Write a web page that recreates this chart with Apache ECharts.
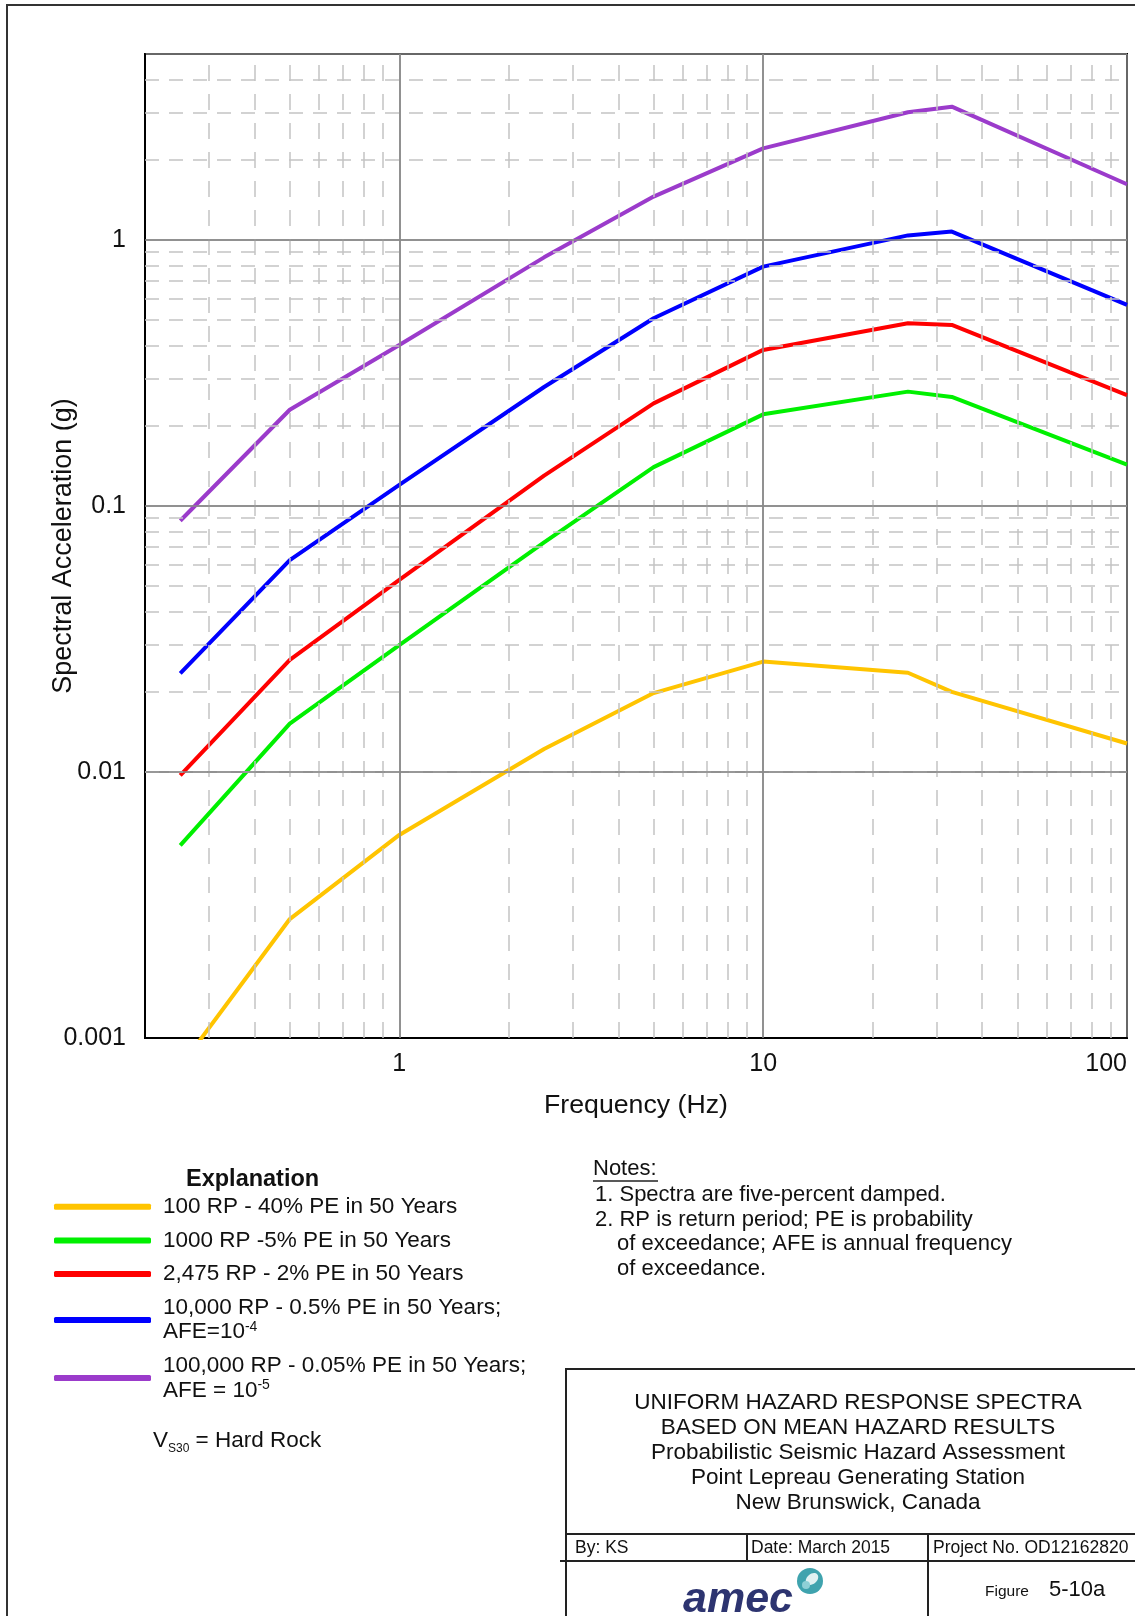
<!DOCTYPE html>
<html><head><meta charset="utf-8">
<script src="https://cdn.jsdelivr.net/npm/echarts@6/dist/echarts.min.js"></script>
<style>html,body{margin:0;padding:0;background:#fff}#main{width:1135px;height:1616px}</style>
</head><body><div id="main"></div>
<script>
const FONT = "'Liberation Sans', Arial, Helvetica, sans-serif";

// ---- data ----
const frequencies = [0.25, 0.5, 1, 2.5, 5, 10, 25, 33, 100];
const rp100    = [0.00078, 0.0028, 0.0058, 0.0122, 0.0198, 0.026, 0.0236, 0.0200, 0.0128];
const rp1000   = [0.0053, 0.0152, 0.030, 0.073, 0.140, 0.221, 0.269, 0.257, 0.143];
const rp2475   = [0.0097, 0.0264, 0.0527, 0.130, 0.243, 0.386, 0.486, 0.479, 0.261];
const rp10000  = [0.0235, 0.0626, 0.120, 0.280, 0.508, 0.794, 1.04, 1.075, 0.57];
const rp100000 = [0.088, 0.23, 0.403, 0.86, 1.455, 2.21, 3.02, 3.17, 1.62];

const seriesNames = [
  '100 RP - 40% PE in 50 Years',
  '1000 RP -5% PE in 50 Years',
  '2,475 RP - 2% PE in 50 Years',
  '10,000 RP - 0.5% PE in 50 Years; AFE=10-4',
  '100,000 RP - 0.05% PE in 50 Years; AFE = 10-5'
];
const legendLabels = [
  '100 RP - 40% PE in 50 Years',
  '1000 RP -5% PE in 50 Years',
  '2,475 RP - 2% PE in 50 Years',
  '10,000 RP - 0.5% PE in 50 Years;\nAFE=10{sup|-4}',
  '100,000 RP - 0.05% PE in 50 Years;\nAFE = 10{sup|-5}'
];
const seriesValues = [rp100, rp1000, rp2475, rp10000, rp100000];
const seriesColors = ['#FFC400', '#00F000', '#FF0000', '#0000FF', '#9B3BCB'];

const xTickValues = [1, 10, 100];
const xTickLabels = ['1', '10', '100'];
const yTickValues = [0.001, 0.01, 0.1, 1];
const yTickLabels = ['0.001', '0.01', '0.1', '1'];
const xMajorGrid = [1, 10];
const yMajorGrid = [0.01, 0.1, 1];

const noteLines = [
  '1. Spectra are five-percent damped.',
  '2. RP is return period; PE is probability',
  'of exceedance; AFE is annual frequency',
  'of exceedance.'
];
const noteIndent = [false, false, true, true];
const titleLines = [
  'UNIFORM HAZARD RESPONSE SPECTRA',
  'BASED ON MEAN HAZARD RESULTS',
  'Probabilistic Seismic Hazard Assessment',
  'Point Lepreau Generating Station',
  'New Brunswick, Canada'
];

// minor (2..9) grid positions for the log axes
function minorLines(decades, lo, hi) {
  const out = [];
  decades.forEach(d => { for (let k = 2; k <= 9; k++) { const v = +(k * d).toPrecision(6); if (v > lo && v < hi) out.push(v); } });
  return out;
}
const minorX = minorLines([0.1, 1, 10], 0.2, 100);
const minorY = minorLines([0.001, 0.01, 0.1, 1], 0.001, 5);

function tickFormatter(values, labels) {
  return function (v) {
    for (let i = 0; i < values.length; i++) {
      if (Math.abs(Math.log10(v) - Math.log10(values[i])) < 1e-6) return labels[i];
    }
    return '';
  };
}

const chart = echarts.init(document.getElementById('main'), null, { renderer: 'canvas' });

const minorStyleV = { color: '#c4c4c4', width: 1.5, type: [16, 13] };
const minorStyleH = { color: '#c4c4c4', width: 1.5, type: [14, 10] };
const majorStyle = { color: '#8a8a8a', width: 1.5, type: 'solid' };

const series = [{
  type: 'line', name: '__grid', data: [], z: 1, silent: true,
  markLine: {
    silent: true, symbol: ['none', 'none'], label: { show: false }, animation: false,
    emphasis: { disabled: true },
    data: minorX.map(v => ({ xAxis: v, lineStyle: minorStyleV }))
      .concat(minorY.map(v => ({ yAxis: v, lineStyle: minorStyleH })))
      .concat(xMajorGrid.map(v => ({ xAxis: v, lineStyle: majorStyle })))
      .concat(yMajorGrid.map(v => ({ yAxis: v, lineStyle: majorStyle })))
  }
}];
seriesValues.forEach((vals, i) => {
  series.push({
    type: 'line', name: seriesNames[i], z: 3, showSymbol: false, symbol: 'none',
    clip: true, smooth: false,
    color: seriesColors[i],
    itemStyle: { color: seriesColors[i] },
    lineStyle: { color: seriesColors[i], width: 4 },
    emphasis: { disabled: true },
    data: frequencies.map((f, j) => [f, vals[j]])
  });
});

const txt = (text, x, y, extra) => ({
  type: 'text', silent: true,
  style: Object.assign({ text: text, x: x, y: y, fill: '#111', fontFamily: FONT, fontSize: 22.5, verticalAlign: 'middle', align: 'left' }, extra || {})
});
const ln = (x1, y1, x2, y2, w) => ({
  type: 'line', silent: true, shape: { x1, y1, x2, y2 }, style: { stroke: '#222', lineWidth: w || 2 }
});

const graphic = [
  { type: 'rect', silent: true, shape: { x: 7, y: 5, width: 1300, height: 1800 }, style: { fill: 'none', stroke: '#333', lineWidth: 2 } },
  txt('Explanation', 186, 1180, { fontWeight: 'bold', fontSize: 23.5 }),
  txt('V{sub|S30} = Hard Rock', 153, 1441, { rich: { sub: { fontSize: 12, fontFamily: FONT, fill: '#111', lineHeight: 12, verticalAlign: 'bottom' } }, lineHeight: 28 }),
  txt('Notes:', 593, 1169, { fontSize: 22 }),
  ln(593, 1181, 658, 1181, 1.3),
  // title block
  { type: 'rect', silent: true, shape: { x: 566, y: 1369, width: 700, height: 400 }, style: { fill: 'none', stroke: '#222', lineWidth: 2 } },
  ln(566, 1534, 1135, 1534),
  ln(560, 1561, 1135, 1561),
  ln(747, 1534, 747, 1561),
  ln(928, 1534, 928, 1616),
  txt('By: KS', 575, 1548, { fontSize: 17.5 }),
  txt('Date: March 2015', 751, 1548, { fontSize: 17.5 }),
  txt('Project No. OD12162820', 933, 1548, { fontSize: 17.5 }),
  txt('Figure', 985, 1592, { fontSize: 15.5 }),
  txt('5-10a', 1049, 1590, { fontSize: 22 }),
  txt('amec', 683, 1600, { fontSize: 43, fontWeight: 'bold', fontStyle: 'italic', fill: '#2d3470' }),
  { type: 'circle', silent: true, shape: { cx: 810, cy: 1581, r: 13 }, style: { fill: '#3fa3ae' } },
  { type: 'ellipse', silent: true, shape: { cx: 812, cy: 1579, rx: 7, ry: 5 }, rotation: 0.7, originX: 812, originY: 1579, style: { fill: '#dff1f2' } },
  { type: 'circle', silent: true, shape: { cx: 806, cy: 1585, r: 4 }, style: { fill: '#8fd0d6' } }
];
noteLines.forEach((t, i) => graphic.push(txt(t, noteIndent[i] ? 617 : 595, 1195 + i * 24.7, { fontSize: 22 })));
titleLines.forEach((t, i) => graphic.push(txt(t, 858, 1403 + i * 25, { align: 'center' })));

const option = {
  animation: false,
  backgroundColor: '#fff',
  textStyle: { fontFamily: FONT },
  grid: { left: 145, top: 54, right: 8, bottom: 578, containLabel: false, show: true, borderColor: '#000', borderWidth: 2, backgroundColor: 'transparent' },
  xAxis: {
    type: 'log', logBase: 10, min: 0.2, max: 100,
    name: 'Frequency (Hz)', nameLocation: 'middle', nameGap: 54, nameMoveOverlap: false,
    nameTextStyle: { fontSize: 26.7, color: '#111', fontFamily: FONT },
    axisLine: { show: true, onZero: false, lineStyle: { color: '#000', width: 2 } },
    axisTick: { show: false },
    minorTick: { show: false },
    axisLabel: { show: true, margin: 14, fontSize: 25, color: '#111', fontFamily: FONT, formatter: tickFormatter(xTickValues, xTickLabels), alignMaxLabel: 'right', hideOverlap: false },
    splitLine: { show: true, lineStyle: { color: '#8a8a8a', width: 1.5 } }
  },
  yAxis: {
    type: 'log', logBase: 10, min: 0.001, max: 5,
    name: 'Spectral Acceleration (g)', nameLocation: 'middle', nameGap: 68, nameMoveOverlap: false,
    nameTextStyle: { fontSize: 27, color: '#111', fontFamily: FONT },
    axisLine: { show: true, onZero: false, lineStyle: { color: '#000', width: 2 } },
    axisTick: { show: false },
    minorTick: { show: false },
    axisLabel: { show: true, margin: 19, fontSize: 25, color: '#111', fontFamily: FONT, padding: [7, 0, 0, 0], formatter: tickFormatter(yTickValues, yTickLabels), hideOverlap: false },
    splitLine: { show: true, lineStyle: { color: '#8a8a8a', width: 1.5 } }
  },
  legend: {
    data: seriesNames, orient: 'vertical', left: 54, top: 1194.5, padding: 0,
    itemGap: 9.3, itemWidth: 97, itemHeight: 6, icon: 'roundRect', selectedMode: false,
    formatter: name => legendLabels[seriesNames.indexOf(name)],
    textStyle: {
      fontSize: 22.5, lineHeight: 24.4, color: '#111', fontFamily: FONT, padding: [0, 0, 0, 7],
      rich: { sup: { fontSize: 14, lineHeight: 17, verticalAlign: 'top', color: '#111', fontFamily: FONT } }
    }
  },
  series: series,
  graphic: graphic
};
chart.setOption(option);
</script>
</body></html>
